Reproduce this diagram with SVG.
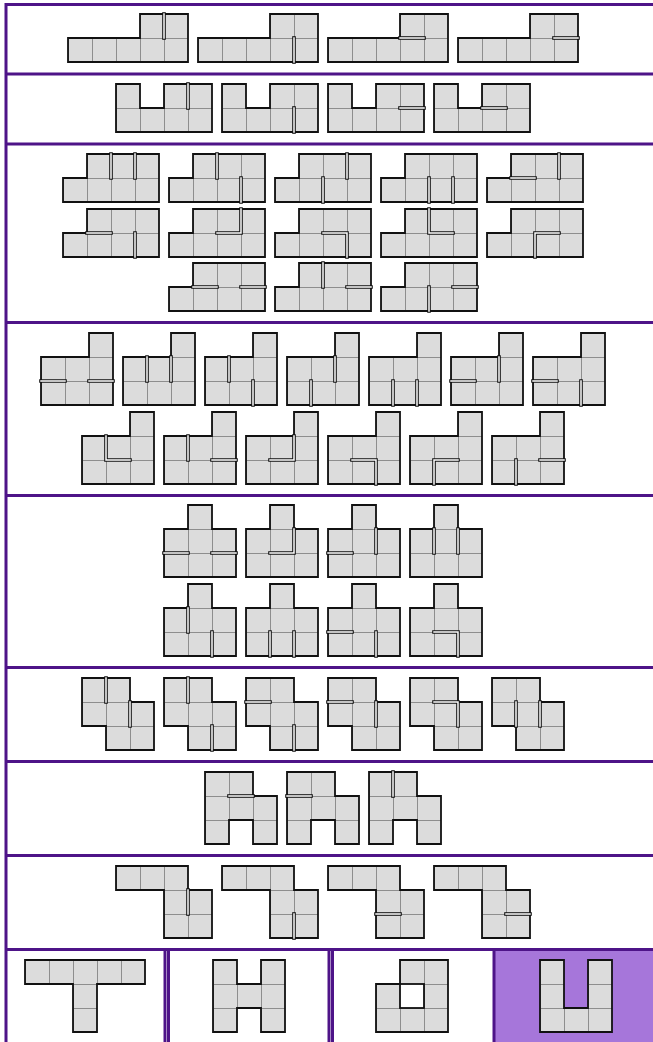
<svg xmlns="http://www.w3.org/2000/svg" xmlns:xlink="http://www.w3.org/1999/xlink" width="653" height="1042" viewBox="0 0 653 1042">
<style>
.sh{fill:url(#g);stroke:#111;stroke-width:1.8;stroke-linejoin:miter}
.k{fill:none;stroke:#111;stroke-width:3.6;stroke-linecap:square;stroke-linejoin:miter}
.w{fill:none;stroke:#fff;stroke-width:1.5;stroke-linecap:square;stroke-linejoin:miter}
.fr{stroke:#4e1488;stroke-width:3;fill:none}
</style>
<defs>
<pattern id="g" width="24" height="24" patternUnits="userSpaceOnUse">
<rect width="24" height="24" fill="#dcdcdc"/>
<path d="M0,0H24M0,0V24" stroke="#8e8e8e" stroke-width="2" fill="none"/>
</pattern>
<path id="t1" class="sh" d="M72,0H120V48H0V24H72Z"/>
<path id="t2" class="sh" d="M0,0H24V24H48V0H96V48H0Z"/>
<path id="t3" class="sh" d="M24,0H96V48H0V24H24Z"/>
<path id="t4" class="sh" d="M48,0H72V72H0V24H48Z"/>
<path id="t5" class="sh" d="M24,0H48V24H72V72H0V24H24Z"/>
<path id="t6" class="sh" d="M0,0H48V24H72V72H24V48H0Z"/>
<path id="t7" class="sh" d="M0,0H48V24H72V72H48V48H24V72H0Z"/>
<path id="t8" class="sh" d="M0,0H72V24H96V72H48V24H0Z"/>
</defs>
<rect width="653" height="1042" fill="#fff"/>
<rect x="495" y="950" width="158" height="92" fill="#a676da"/>
<g id="frame">
<path class="fr" d="M5,4.5H653M5,74H653M5,144H653M5,322.5H653M5,495.5H653M5,667.5H653M5,761.5H653M5,855.5H653M5,949.5H653"/>
<path class="fr" d="M6,3V1042"/>
<path class="fr" d="M165,949V1042" stroke-width="2.5"/>
<path class="fr" d="M168.5,949V1042" stroke-width="1.8"/>
<path class="fr" d="M329,949V1042" stroke-width="2.5"/>
<path class="fr" d="M332.5,949V1042" stroke-width="1.8"/>
<path class="fr" d="M494,949V1042" stroke-width="4" stroke="#4a0c88"/>
</g>
<g id="connectors"/>
<!-- row 1 -->
<g id="r1s1" transform="translate(68,14)"><use href="#t1"/><path class="k" d="M96,0V24"/><path class="w" d="M96,0V24"/></g>
<g id="r1s2" transform="translate(198,14)"><use href="#t1"/><path class="k" d="M96,24V48"/><path class="w" d="M96,24V48"/></g>
<g id="r1s3" transform="translate(328,14)"><use href="#t1"/><path class="k" d="M72,24H96"/><path class="w" d="M72,24H96"/></g>
<g id="r1s4" transform="translate(458,14)"><use href="#t1"/><path class="k" d="M96,24H120"/><path class="w" d="M96,24H120"/></g>
<!-- row 2 -->
<g id="r2s1" transform="translate(116,84)"><use href="#t2"/><path class="k" d="M72,0V24"/><path class="w" d="M72,0V24"/></g>
<g id="r2s2" transform="translate(222,84)"><use href="#t2"/><path class="k" d="M72,24V48"/><path class="w" d="M72,24V48"/></g>
<g id="r2s3" transform="translate(328,84)"><use href="#t2"/><path class="k" d="M72,24H96"/><path class="w" d="M72,24H96"/></g>
<g id="r2s4" transform="translate(434,84)"><use href="#t2"/><path class="k" d="M48,24H72"/><path class="w" d="M48,24H72"/></g>
<!-- row 3 -->
<g id="r3s1" transform="translate(63,154)"><use href="#t3"/><path class="k" d="M48,0V24M72,0V24"/><path class="w" d="M48,0V24M72,0V24"/></g>
<g id="r3s2" transform="translate(169,154)"><use href="#t3"/><path class="k" d="M48,0V24M72,24V48"/><path class="w" d="M48,0V24M72,24V48"/></g>
<g id="r3s3" transform="translate(275,154)"><use href="#t3"/><path class="k" d="M48,24V48M72,0V24"/><path class="w" d="M48,24V48M72,0V24"/></g>
<g id="r3s4" transform="translate(381,154)"><use href="#t3"/><path class="k" d="M48,24V48M72,24V48"/><path class="w" d="M48,24V48M72,24V48"/></g>
<g id="r3s5" transform="translate(487,154)"><use href="#t3"/><path class="k" d="M24,24H48M72,0V24"/><path class="w" d="M24,24H48M72,0V24"/></g>
<g id="r3s6" transform="translate(63,209)"><use href="#t3"/><path class="k" d="M24,24H48M72,24V48"/><path class="w" d="M24,24H48M72,24V48"/></g>
<g id="r3s7" transform="translate(169,209)"><use href="#t3"/><path class="k" d="M72,0V24H48"/><path class="w" d="M72,0V24H48"/></g>
<g id="r3s8" transform="translate(275,209)"><use href="#t3"/><path class="k" d="M48,24H72V48"/><path class="w" d="M48,24H72V48"/></g>
<g id="r3s9" transform="translate(381,209)"><use href="#t3"/><path class="k" d="M48,0V24H72"/><path class="w" d="M48,0V24H72"/></g>
<g id="r3s10" transform="translate(487,209)"><use href="#t3"/><path class="k" d="M48,48V24H72"/><path class="w" d="M48,48V24H72"/></g>
<g id="r3s11" transform="translate(169,263)"><use href="#t3"/><path class="k" d="M24,24H48M72,24H96"/><path class="w" d="M24,24H48M72,24H96"/></g>
<g id="r3s12" transform="translate(275,263)"><use href="#t3"/><path class="k" d="M48,0V24M72,24H96"/><path class="w" d="M48,0V24M72,24H96"/></g>
<g id="r3s13" transform="translate(381,263)"><use href="#t3"/><path class="k" d="M48,24V48M72,24H96"/><path class="w" d="M48,24V48M72,24H96"/></g>
<!-- row 4 -->
<g id="r4s1" transform="translate(41,333)"><use href="#t4"/><path class="k" d="M0,48H24M48,48H72"/><path class="w" d="M0,48H24M48,48H72"/></g>
<g id="r4s2" transform="translate(123,333)"><use href="#t4"/><path class="k" d="M24,24V48M48,24V48"/><path class="w" d="M24,24V48M48,24V48"/></g>
<g id="r4s3" transform="translate(205,333)"><use href="#t4"/><path class="k" d="M24,24V48M48,48V72"/><path class="w" d="M24,24V48M48,48V72"/></g>
<g id="r4s4" transform="translate(287,333)"><use href="#t4"/><path class="k" d="M24,48V72M48,24V48"/><path class="w" d="M24,48V72M48,24V48"/></g>
<g id="r4s5" transform="translate(369,333)"><use href="#t4"/><path class="k" d="M24,48V72M48,48V72"/><path class="w" d="M24,48V72M48,48V72"/></g>
<g id="r4s6" transform="translate(451,333)"><use href="#t4"/><path class="k" d="M0,48H24M48,24V48"/><path class="w" d="M0,48H24M48,24V48"/></g>
<g id="r4s7" transform="translate(533,333)"><use href="#t4"/><path class="k" d="M0,48H24M48,48V72"/><path class="w" d="M0,48H24M48,48V72"/></g>
<g id="r4s8" transform="translate(82,412)"><use href="#t4"/><path class="k" d="M24,24V48H48"/><path class="w" d="M24,24V48H48"/></g>
<g id="r4s9" transform="translate(164,412)"><use href="#t4"/><path class="k" d="M24,24V48M48,48H72"/><path class="w" d="M24,24V48M48,48H72"/></g>
<g id="r4s10" transform="translate(246,412)"><use href="#t4"/><path class="k" d="M24,48H48V24"/><path class="w" d="M24,48H48V24"/></g>
<g id="r4s11" transform="translate(328,412)"><use href="#t4"/><path class="k" d="M24,48H48V72"/><path class="w" d="M24,48H48V72"/></g>
<g id="r4s12" transform="translate(410,412)"><use href="#t4"/><path class="k" d="M48,48H24V72"/><path class="w" d="M48,48H24V72"/></g>
<g id="r4s13" transform="translate(492,412)"><use href="#t4"/><path class="k" d="M24,48V72M48,48H72"/><path class="w" d="M24,48V72M48,48H72"/></g>
<!-- row 5 -->
<g id="r5s1" transform="translate(164,505)"><use href="#t5"/><path class="k" d="M0,48H24M48,48H72"/><path class="w" d="M0,48H24M48,48H72"/></g>
<g id="r5s2" transform="translate(246,505)"><use href="#t5"/><path class="k" d="M24,48H48V24"/><path class="w" d="M24,48H48V24"/></g>
<g id="r5s3" transform="translate(328,505)"><use href="#t5"/><path class="k" d="M0,48H24M48,24V48"/><path class="w" d="M0,48H24M48,24V48"/></g>
<g id="r5s4" transform="translate(410,505)"><use href="#t5"/><path class="k" d="M24,24V48M48,24V48"/><path class="w" d="M24,24V48M48,24V48"/></g>
<g id="r5s5" transform="translate(164,584)"><use href="#t5"/><path class="k" d="M24,24V48M48,48V72"/><path class="w" d="M24,24V48M48,48V72"/></g>
<g id="r5s6" transform="translate(246,584)"><use href="#t5"/><path class="k" d="M24,48V72M48,48V72"/><path class="w" d="M24,48V72M48,48V72"/></g>
<g id="r5s7" transform="translate(328,584)"><use href="#t5"/><path class="k" d="M0,48H24M48,48V72"/><path class="w" d="M0,48H24M48,48V72"/></g>
<g id="r5s8" transform="translate(410,584)"><use href="#t5"/><path class="k" d="M24,48H48V72"/><path class="w" d="M24,48H48V72"/></g>
<!-- row 6 -->
<g id="r6s1" transform="translate(82,678)"><use href="#t6"/><path class="k" d="M24,0V24M48,24V48"/><path class="w" d="M24,0V24M48,24V48"/></g>
<g id="r6s2" transform="translate(164,678)"><use href="#t6"/><path class="k" d="M24,0V24M48,48V72"/><path class="w" d="M24,0V24M48,48V72"/></g>
<g id="r6s3" transform="translate(246,678)"><use href="#t6"/><path class="k" d="M0,24H24M48,48V72"/><path class="w" d="M0,24H24M48,48V72"/></g>
<g id="r6s4" transform="translate(328,678)"><use href="#t6"/><path class="k" d="M0,24H24M48,24V48"/><path class="w" d="M0,24H24M48,24V48"/></g>
<g id="r6s5" transform="translate(410,678)"><use href="#t6"/><path class="k" d="M24,24H48V48"/><path class="w" d="M24,24H48V48"/></g>
<g id="r6s6" transform="translate(492,678)"><use href="#t6"/><path class="k" d="M24,24V48M48,24V48"/><path class="w" d="M24,24V48M48,24V48"/></g>
<!-- row 7 -->
<g id="r7s1" transform="translate(205,772)"><use href="#t7"/><path class="k" d="M24,24H48"/><path class="w" d="M24,24H48"/></g>
<g id="r7s2" transform="translate(287,772)"><use href="#t7"/><path class="k" d="M0,24H24"/><path class="w" d="M0,24H24"/></g>
<g id="r7s3" transform="translate(369,772)"><use href="#t7"/><path class="k" d="M24,0V24"/><path class="w" d="M24,0V24"/></g>
<!-- row 8 -->
<g id="r8s1" transform="translate(116,866)"><use href="#t8"/><path class="k" d="M72,24V48"/><path class="w" d="M72,24V48"/></g>
<g id="r8s2" transform="translate(222,866)"><use href="#t8"/><path class="k" d="M72,48V72"/><path class="w" d="M72,48V72"/></g>
<g id="r8s3" transform="translate(328,866)"><use href="#t8"/><path class="k" d="M48,48H72"/><path class="w" d="M48,48H72"/></g>
<g id="r8s4" transform="translate(434,866)"><use href="#t8"/><path class="k" d="M72,48H96"/><path class="w" d="M72,48H96"/></g>
<!-- row 9 -->
<g id="p1" transform="translate(25,960)"><path class="sh" d="M0,0H120V24H72V72H48V24H0Z"/></g>
<g id="p2" transform="translate(213,960)"><path class="sh" d="M0,0H24V24H48V0H72V72H48V48H24V72H0Z"/></g>
<g id="p3" transform="translate(376,960)"><path class="sh" d="M24,0H72V72H0V24H24Z"/><rect x="24" y="24" width="24" height="24" fill="#fff" stroke="#111" stroke-width="1.8"/></g>
<g id="p4" transform="translate(540,960)"><path class="sh" d="M0,0H24V48H48V0H72V72H0Z"/></g>
</svg>
